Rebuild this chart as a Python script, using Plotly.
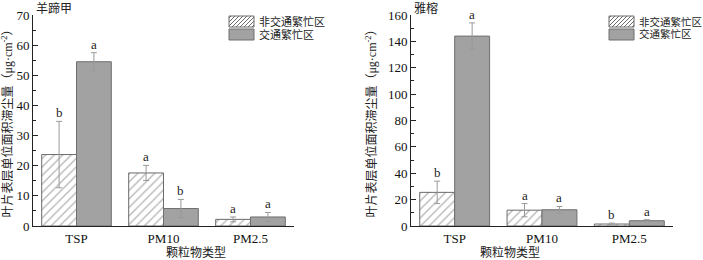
import plotly.graph_objects as go

categories = ["TSP", "PM10", "PM2.5"]
series_names = ["非交通繁忙区", "交通繁忙区"]

# 羊蹄甲
left_non = [23.7, 17.6, 2.2]
left_non_err = [11.0, 2.5, 0.8]
left_traffic = [54.5, 5.8, 3.0]
left_traffic_err = [3.0, 3.0, 1.5]
left_letters_non = ["b", "a", "a"]
left_letters_traffic = ["a", "b", "a"]

# 雅榕
right_non = [25.5, 12.0, 1.5]
right_non_err = [8.5, 5.0, 0.7]
right_traffic = [144.0, 12.3, 4.0]
right_traffic_err = [10.0, 2.5, 0.8]
right_letters_non = ["b", "a", "b"]
right_letters_traffic = ["a", "a", "a"]

panel_titles = ["羊蹄甲", "雅榕"]
y_title = "叶片表层单位面积滞尘量（μg·cm<sup>-2</sup>）"
x_title = "颗粒物类型"

W, H = 703, 260
FONT = "Liberation Serif, Times New Roman, Noto Sans CJK SC"
HATCH_COLOR = "#6a6a6a"
GRAY_FILL = "#a2a2a2"
GRAY_LINE = "#6f6f6f"
ERR_COLOR = "#9a9a9a"

fig = go.Figure()
xi = list(range(len(categories)))

panels = [
    dict(non=left_non, ne=left_non_err, tr=left_traffic, te=left_traffic_err,
         ln=left_letters_non, lt=left_letters_traffic, xa="x", ya="y"),
    dict(non=right_non, ne=right_non_err, tr=right_traffic, te=right_traffic_err,
         ln=right_letters_non, lt=right_letters_traffic, xa="x2", ya="y2"),
]

annotations = []
for p in panels:
    fig.add_trace(go.Bar(
        x=xi, y=p["non"], name=series_names[0], xaxis=p["xa"], yaxis=p["ya"],
        marker=dict(color="white", line=dict(color=HATCH_COLOR, width=1),
                    pattern=dict(shape="/", fgcolor=HATCH_COLOR, bgcolor="white",
                                 size=6, solidity=0.22)),
        error_y=dict(type="data", array=p["ne"], color=ERR_COLOR, thickness=1, width=3),
        showlegend=False))
    fig.add_trace(go.Bar(
        x=xi, y=p["tr"], name=series_names[1], xaxis=p["xa"], yaxis=p["ya"],
        marker=dict(color=GRAY_FILL, line=dict(color=GRAY_LINE, width=1)),
        error_y=dict(type="data", array=p["te"], color=ERR_COLOR, thickness=1, width=3),
        showlegend=False))
    for i in xi:
        for off, vals, errs, lets in [(-0.2, p["non"], p["ne"], p["ln"]),
                                      (0.2, p["tr"], p["te"], p["lt"])]:
            annotations.append(dict(
                x=i + off, y=vals[i] + errs[i], xref=p["xa"], yref=p["ya"],
                text=lets[i], showarrow=False, yanchor="bottom", yshift=-1,
                font=dict(family=FONT, size=13, color="#222")))

# layout geometry (pixels)
left_dom = [33 / W, 294 / W]
right_dom = [411 / W, 673 / W]
ydom = [(H - 226) / H, (H - 15) / H]

axis_common = dict(showline=True, linecolor="#222", linewidth=1, showgrid=False,
                   zeroline=False, automargin=False,
                   tickfont=dict(family=FONT, size=13, color="#111"))

fig.update_layout(
    width=W, height=H, margin=dict(l=0, r=0, t=0, b=0, autoexpand=False),
    paper_bgcolor="white", plot_bgcolor="white",
    barmode="group", bargap=0.2, bargroupgap=0,
    font=dict(family=FONT, size=12, color="#222"),
    xaxis=dict(domain=left_dom, anchor="y", range=[-0.5, 2.5], tickmode="array",
               tickvals=xi, ticktext=categories, ticks="", **axis_common),
    yaxis=dict(domain=ydom, anchor="x", range=[0, 70], dtick=10, ticks="inside",
               ticklen=5, tickcolor="#222",
               minor=dict(ticks="inside", ticklen=3, dtick=5, tickcolor="#222"),
               title=dict(text=y_title, font=dict(family=FONT, size=12), standoff=8),
               **axis_common),
    xaxis2=dict(domain=right_dom, anchor="y2", range=[-0.5, 2.5], tickmode="array",
                tickvals=xi, ticktext=categories, ticks="", **axis_common),
    yaxis2=dict(domain=ydom, anchor="x2", range=[0, 160], dtick=20, ticks="inside",
                ticklen=5, tickcolor="#222",
                minor=dict(ticks="inside", ticklen=3, dtick=10, tickcolor="#222"),
                title=dict(text=y_title, font=dict(family=FONT, size=12), standoff=8),
                **axis_common),
)

# x titles and panel titles
for dom, t in zip([left_dom, right_dom], panel_titles):
    annotations.append(dict(x=(dom[0] + dom[1]) / 2, y=(H - 252) / H, xref="paper", yref="paper",
                            text=x_title, showarrow=False, yanchor="middle",
                            font=dict(family=FONT, size=12, color="#222")))
    annotations.append(dict(x=dom[0] + 1 / W, y=(H - 8) / H, xref="paper", yref="paper",
                            text=t, showarrow=False, xanchor="left", yanchor="middle",
                            font=dict(family=FONT, size=12, color="#222")))

# custom legends
shapes = []
def px(x, y):
    return x / W, 1 - y / H

for lx, fs in [(229, 11), (609, 10.5)]:
    for k, name in enumerate(series_names):
        top = 16 + k * 13
        x0, y0 = px(lx, top + 11)
        x1, y1 = px(lx + 25, top)
        if k == 0:
            shapes.append(dict(type="rect", xref="paper", yref="paper", x0=x0, y0=y0, x1=x1, y1=y1,
                               line=dict(color=HATCH_COLOR, width=1), fillcolor="white"))
            w, h = 25, 11
            c = -h + 2
            while c < w:
                u0 = max(0, c)
                u1 = min(w, h + c)
                if u1 > u0:
                    ax, ay = px(lx + u0, top + h - (u0 - c))
                    bx, by = px(lx + u1, top + h - (u1 - c))
                    shapes.append(dict(type="line", xref="paper", yref="paper",
                                       x0=ax, y0=ay, x1=bx, y1=by,
                                       line=dict(color=HATCH_COLOR, width=1)))
                c += 4
        else:
            shapes.append(dict(type="rect", xref="paper", yref="paper", x0=x0, y0=y0, x1=x1, y1=y1,
                               line=dict(color=GRAY_LINE, width=1), fillcolor=GRAY_FILL))
        tx, ty = px(lx + 28, top + 5.5)
        annotations.append(dict(x=tx, y=ty, xref="paper", yref="paper", text=name,
                                showarrow=False, xanchor="left", yanchor="middle",
                                font=dict(family=FONT, size=fs, color="#222")))

fig.update_layout(annotations=annotations, shapes=shapes)
fig.write_html("out.html", config={"displayModeBar": False},
               post_script="document.body.style.margin='0';")
